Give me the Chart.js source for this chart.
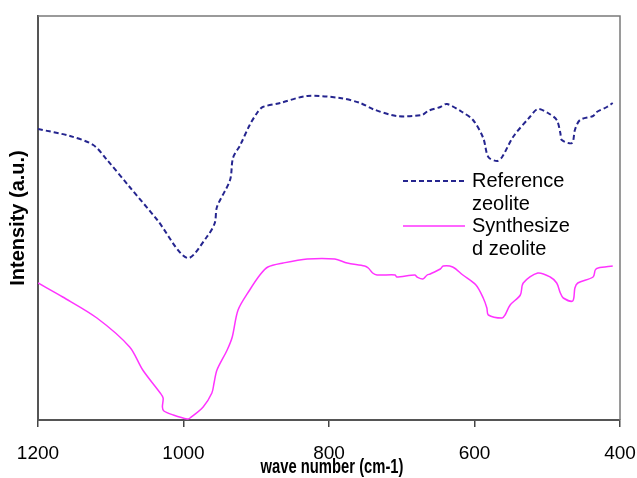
<!DOCTYPE html>
<html>
<head>
<meta charset="utf-8">
<script src="https://cdn.jsdelivr.net/npm/chart.js@4"></script>
<style>
  html, body { margin: 0; padding: 0; background: #fff; }
  #wrap { width: 637px; height: 478px; }
</style>
</head>
<body>
<div id="wrap"><canvas id="irChart" width="637" height="478"></canvas></div>
<script>
// wave numbers (cm-1) and intensity (a.u.)
const refWave = [1200, 1156, 1124, 1105, 1074, 1036, 995, 968, 957, 954, 936, 932, 922, 909,
  898, 891, 867, 830, 785, 757, 740, 707, 672, 664, 647, 638, 617, 602, 588, 581, 569, 562,
  547, 524, 513, 499, 487, 482, 480, 466, 462, 455, 437, 432, 418, 410];
const refIntensity = [291, 284, 275, 260, 233, 200, 162, 183, 197, 213, 240, 262, 275, 295,
  308, 313, 317, 324, 322, 317, 311, 304, 305, 309, 313, 316, 308, 300, 282, 263, 259, 263,
  283, 303, 311, 307, 300, 287, 280, 277, 290, 300, 304, 308, 313, 317];

const synWave = [1200, 1166, 1119, 1074, 1056, 1032, 1028, 1029, 1027, 1014, 995, 991, 973, 961,
  958, 954, 940, 933, 925, 909, 895, 884, 863, 830, 792, 775, 751, 746, 740, 734, 709, 707,
  682, 679, 671, 665, 661, 647, 643, 630, 616, 598, 588, 583, 581, 562, 558, 551, 537, 533,
  513, 496, 487, 482, 478, 465, 462, 458, 437, 434, 430, 410];
const synIntensity = [137, 123, 102, 73, 50, 27, 22, 13, 9, 5, 1, 2, 13, 27,
  37, 50, 70, 83, 110, 130, 145, 153, 157, 161, 161, 157, 154, 152, 147, 145, 145, 143,
  145, 143, 141, 145, 146, 151, 154, 153, 145, 135, 122, 112, 105, 102, 105, 115, 125, 137,
  147, 143, 137, 127, 122, 119, 132, 137, 143, 150, 152, 154];

const xTicks = [1200, 1000, 800, 600, 400];

const seriesNames = [['Reference', 'zeolite'], ['Synthesize', 'd zeolite']];
const xTitle = 'wave number (cm-1)';

function toPoints(xs, ys) {
  return xs.map((x, i) => ({ x: x, y: ys[i] }));
}

// box round the plot, the wrapped legend and the squeezed x title
const framePlugin = {
  id: 'frame',
  afterDraw(chart) {
    const ctx = chart.ctx;
    const a = chart.chartArea;
    ctx.save();
    ctx.strokeStyle = '#7a7a7a';
    ctx.lineWidth = 1.5;
    ctx.beginPath();
    ctx.moveTo(a.left, a.top);
    ctx.lineTo(a.right, a.top);
    ctx.lineTo(a.right, a.bottom);
    ctx.stroke();

    // legend
    const lx1 = 403, lx2 = 465, tx = 472;
    const rows = [181, 226];
    ctx.font = '20px "Liberation Sans", Arial, sans-serif';
    ctx.textBaseline = 'middle';
    ctx.fillStyle = '#000';
    chart.data.datasets.forEach((ds, i) => {
      ctx.strokeStyle = ds.borderColor;
      ctx.lineWidth = ds.borderWidth;
      ctx.setLineDash(ds.borderDash || []);
      ctx.beginPath();
      ctx.moveTo(lx1, rows[i]);
      ctx.lineTo(lx2, rows[i]);
      ctx.stroke();
      ctx.setLineDash([]);
      seriesNames[i].forEach((t, j) => {
        ctx.fillText(t, tx, rows[i] + j * 23);
      });
    });

    // x axis title, squeezed like the original
    ctx.font = 'bold 20px "Liberation Sans", Arial, sans-serif';
    ctx.textAlign = 'center';
    const w = ctx.measureText(xTitle).width;
    ctx.translate(332, 467);
    ctx.scale(143 / w, 1);
    ctx.fillText(xTitle, 0, 0);
    ctx.restore();
  }
};

const ctx = document.getElementById('irChart').getContext('2d');
const irChart = new Chart(ctx, {
  type: 'line',
  data: {
    datasets: [{
      label: 'Reference zeolite',
      data: toPoints(refWave, refIntensity),
      borderColor: '#25258f',
      borderWidth: 2,
      borderDash: [5, 3],
      pointRadius: 0,
      tension: 0.3,
      fill: false
    }, {
      label: 'Synthesized zeolite',
      data: toPoints(synWave, synIntensity),
      borderColor: '#ff33ff',
      borderWidth: 1.5,
      pointRadius: 0,
      tension: 0.3,
      fill: false
    }]
  },
  options: {
    responsive: false,
    animation: false,
    layout: { padding: { top: 16, right: 1, left: 0, bottom: 0 } },
    plugins: {
      legend: { display: false },
      tooltip: { enabled: false }
    },
    scales: {
      x: {
        type: 'linear',
        reverse: true,
        min: 400,
        max: 1200,
        afterBuildTicks: (axis) => { axis.ticks = xTicks.map(v => ({ value: v })); },
        afterFit: (axis) => {
          axis.height = 58;
          axis.paddingLeft = 0;
          axis.paddingRight = 17;
        },
        ticks: {
          color: '#000',
          padding: 15,
          maxRotation: 0,
          callback: (v) => String(v),
          font: { family: '"Liberation Sans", Arial, sans-serif', size: 19 }
        },
        grid: {
          drawOnChartArea: false,
          drawTicks: true,
          tickLength: 7,
          color: '#444',
          lineWidth: 1.5
        },
        border: { color: '#555', width: 2 }
      },
      y: {
        min: 0,
        max: 404,
        ticks: { display: false },
        grid: { display: false, drawTicks: false },
        border: { color: '#555', width: 2 },
        title: {
          display: true,
          text: 'Intensity (a.u.)',
          color: '#000',
          padding: { top: 6, bottom: 8 },
          font: { family: '"Liberation Sans", Arial, sans-serif', size: 20, weight: 'bold' }
        }
      }
    }
  },
  plugins: [framePlugin]
});
</script>
</body>
</html>
